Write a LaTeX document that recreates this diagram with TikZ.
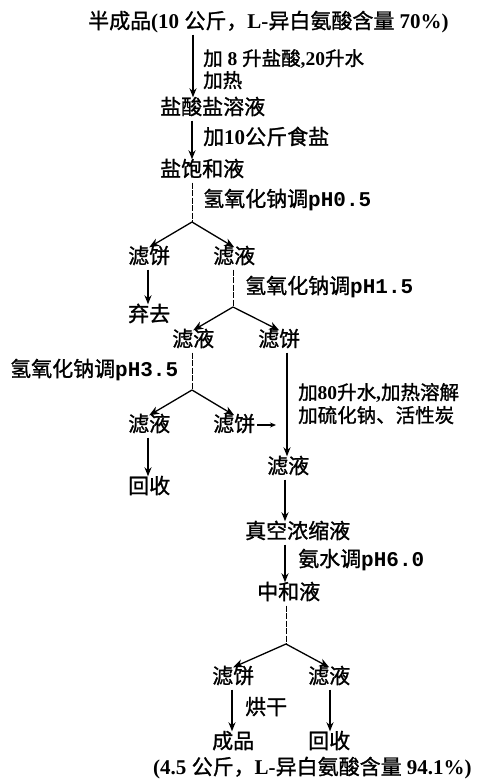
\documentclass[tikz,border=0pt]{standalone}
\usepackage{fontspec}
\setmainfont{Noto Sans CJK SC}[FakeBold=1.2]
\newfontfamily\latfont{Liberation Serif}
\newfontfamily\monfont{Liberation Mono}
\newcommand\LatT[1]{{\latfont\bfseries #1}}
\newcommand\MonT[1]{{\monfont\bfseries #1}}
\usetikzlibrary{arrows.meta}
\tikzset{
  txt/.style={font=\fontsize{21}{25}\selectfont, inner sep=0pt, text height=16pt, text depth=3pt, anchor=west},
  smalltxt/.style={txt, font=\fontsize{19.5}{23}\selectfont},
  solidarr/.style={line width=1.6pt, -{Stealth[length=9pt,width=7pt]}, shorten <=3pt, shorten >=1pt},
  brarr/.style={line width=1.3pt, -{Stealth[length=10pt,width=8pt,inset=3pt]}},
  thinline/.style={line width=0.7pt, dash pattern=on 6pt off 1.5pt, shorten <=3pt},
}
\begin{document}
\begin{tikzpicture}[x=1pt,y=-1pt]
\useasboundingbox (0,0) rectangle (502,780);
% column coordinates
\coordinate (xa) at (193,0);
\coordinate (xb) at (192,0);
\coordinate (xc) at (233,0);
\coordinate (xd) at (148,0);
\coordinate (xe) at (287,0);
\coordinate (xf) at (285,0);
\coordinate (xg) at (232,0);
\coordinate (xh) at (330,0);
% nodes
\node[txt] (t1) at (88,22) {半成品\LatT{(10 }公斤，\LatT{L-}异白氨酸含量\LatT{ 70\%)}};
\node[smalltxt] (l1a) at (203,59) {加\LatT{ 8 }升盐酸\LatT{,20}升水};
\node[smalltxt] (l1b) at (203,81) {加热};
\node[txt] (hcl) at (160,108) {盐酸盐溶液};
\node[txt] (l2) at (203,138) {加\LatT{10}公斤食盐};
\node[txt] (sat) at (160,170) {盐饱和液};
\node[txt] (l3) at (203,200) {氢氧化钠调\MonT{pH0.5}};
\coordinate (b1) at (192,222);
\node[txt] (A) at (128,257) {滤饼};
\node[txt] (B) at (213,257) {滤液};
\node[txt] (Q) at (128,315) {弃去};
\node[txt] (l4) at (245,287) {氢氧化钠调\MonT{pH1.5}};
\coordinate (b2) at (233,307);
\node[txt] (C) at (172,340) {滤液};
\node[txt] (D) at (258,340) {滤饼};
\node[txt] (l5) at (10,370) {氢氧化钠调\MonT{pH3.5}};
\coordinate (b3) at (192,390);
\node[txt] (E) at (128,425) {滤液};
\node[txt] (F) at (213,425) {滤饼};
\coordinate (f1) at (276,425);
\node[smalltxt] (l6a) at (298,393) {加\LatT{80}升水\LatT{,}加热溶解};
\node[smalltxt] (l6b) at (298,416) {加硫化钠、活性炭};
\node[txt] (G) at (267,467) {滤液};
\node[txt] (R1) at (128,487) {回收};
\node[txt] (H) at (245,532) {真空浓缩液};
\node[txt] (l7) at (298,560) {氨水调\MonT{pH6.0}};
\node[txt] (I) at (257,593) {中和液};
\coordinate (b4) at (286,644);
\node[txt] (J) at (212,677) {滤饼};
\node[txt] (K) at (308,677) {滤液};
\node[txt] (l8) at (245,708) {烘干};
\node[txt] (P) at (212,742) {成品};
\node[txt] (R2) at (308,742) {回收};
\node[txt] (t2) at (153,768) {\LatT{(4.5 }公斤，\LatT{L-}异白氨酸含量\LatT{ 94.1\%)}};
% connectors
\draw[solidarr] (t1.south -| xa) -- (hcl.north -| xa);
\draw[solidarr] (hcl.south -| xb) -- (sat.north -| xb);
\draw[thinline] (sat.south -| xb) -- (b1);
\draw[brarr] (b1) -- (A.north);
\draw[brarr] (b1) -- (B.north);
\draw[solidarr] (A.south -| xd) -- (Q.north -| xd);
\draw[thinline] (B.south -| xc) -- (b2);
\draw[brarr] (b2) -- (C.north);
\draw[brarr] (b2) -- (D.north);
\draw[thinline] (C.south -| xb) -- (b3);
\draw[brarr] (b3) -- (E.north);
\draw[brarr] (b3) -- (F.north);
\draw[line width=1.3pt, -{Stealth[length=6pt,width=5pt]}, shorten <=2pt] (F.east) -- (f1);
\draw[solidarr] (D.south -| xe) -- (G.north -| xe);
\draw[solidarr] (E.south -| xd) -- (R1.north -| xd);
\draw[solidarr] (G.south -| xf) -- (H.north -| xf);
\draw[solidarr] (H.south -| xf) -- (I.north -| xf);
\draw[thinline] (I.south -| b4) -- (b4);
\draw[brarr] (b4) -- (J.north);
\draw[brarr] (b4) -- (K.north);
\draw[solidarr] (J.south -| xg) -- (P.north -| xg);
\draw[solidarr] (K.south -| xh) -- (R2.north -| xh);
\end{tikzpicture}
\end{document}
